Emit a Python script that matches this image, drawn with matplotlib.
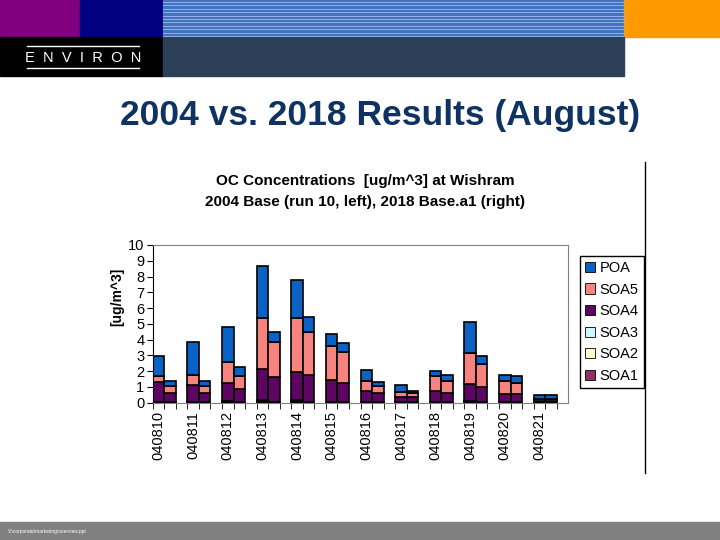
import numpy as np
import matplotlib
matplotlib.use("Agg")
import matplotlib.pyplot as plt
from matplotlib.patches import Rectangle, Patch

plt.rcParams['font.family'] = ['Liberation Sans', 'DejaVu Sans']

# category labels (dates)
dates = ["040810", "040811", "040812", "040813", "040814", "040815",
         "040816", "040817", "040818", "040819", "040820", "040821"]

# 2004 base (left bar of each pair)
soa1_04 = [0.03, 0.02, 0.06, 0.03, 0.03, 0.04, 0.02, 0.02, 0.02, 0.06, 0.02, 0.03]
soa2_04 = [0.01, 0.01, 0.01, 0.05, 0.05, 0.01, 0.0, 0.0, 0.0, 0.01, 0.0, 0.0]
soa3_04 = [0.01, 0.01, 0.01, 0.06, 0.06, 0.01, 0.0, 0.0, 0.0, 0.01, 0.0, 0.0]
soa4_04 = [1.28, 1.06, 1.19, 1.97, 1.78, 1.36, 0.70, 0.32, 0.70, 1.08, 0.51, 0.10]
soa5_04 = [0.34, 0.68, 1.33, 3.26, 3.47, 2.20, 0.68, 0.34, 0.95, 1.97, 0.87, 0.08]
poa_04 = [1.27, 2.05, 2.18, 3.28, 2.37, 0.71, 0.65, 0.42, 0.32, 1.97, 0.33, 0.26]

# 2018 base.a1 (right bar of each pair)
soa1_18 = [0.02, 0.02, 0.04, 0.06, 0.06, 0.04, 0.02, 0.02, 0.02, 0.05, 0.02, 0.02]
soa2_18 = [0.0, 0.0, 0.0, 0.0, 0.0, 0.0, 0.0, 0.0, 0.0, 0.0, 0.0, 0.0]
soa3_18 = [0.0, 0.0, 0.0, 0.01, 0.01, 0.0, 0.0, 0.0, 0.0, 0.0, 0.0, 0.0]
soa4_18 = [0.57, 0.57, 0.81, 1.54, 1.66, 1.19, 0.57, 0.32, 0.57, 0.92, 0.51, 0.11]
soa5_18 = [0.45, 0.45, 0.86, 2.26, 2.73, 2.00, 0.49, 0.25, 0.81, 1.46, 0.74, 0.08]
poa_18 = [0.31, 0.31, 0.55, 0.59, 0.95, 0.53, 0.21, 0.13, 0.33, 0.51, 0.40, 0.26]

species = ["SOA1", "SOA2", "SOA3", "SOA4", "SOA5", "POA"]
colors = {"SOA1": "#8c3163", "SOA2": "#ffffcc", "SOA3": "#ccf7ff",
          "SOA4": "#5e0563", "SOA5": "#f7837f", "POA": "#0a63c4"}

left = [soa1_04, soa2_04, soa3_04, soa4_04, soa5_04, poa_04]
right = [soa1_18, soa2_18, soa3_18, soa4_18, soa5_18, poa_18]

fig = plt.figure(figsize=(7.2, 5.4), dpi=100)

# slide decoration in pixel coords
bg = fig.add_axes([0, 0, 1, 1])
bg.set_xlim(0, 720)
bg.set_ylim(540, 0)
bg.axis("off")
bg.add_patch(Rectangle((0, 0), 80, 37, color="#800080"))
bg.add_patch(Rectangle((80, 0), 83, 37, color="#000080"))
bg.add_patch(Rectangle((163, 0), 461, 37, color="#4373c0"))
for yy in np.arange(2, 37, 3.4):
    bg.plot([163, 624], [yy, yy], color="#9dbcec", lw=0.6)
bg.add_patch(Rectangle((624, 0), 96, 37, color="#ff9900"))
bg.add_patch(Rectangle((0, 37), 163, 39, color="black"))
bg.add_patch(Rectangle((163, 37), 461, 39, color="#2b3f58"))
bg.plot([27, 139], [46, 46], color="white", lw=1)
bg.plot([27, 139], [68, 68], color="white", lw=1)
bg.text(83, 57.5, "E  N  V  I  R  O  N", color="white", fontsize=10.5,
        ha="center", va="center")
bg.add_patch(Rectangle((0, 522), 720, 18, color="#808080"))
bg.text(8, 531, r"V:\corporate\marketing\overview.ppt", color="white",
        fontsize=3.5, va="center")
bg.text(380, 115, "2004 vs. 2018 Results (August)", color="#0e3262",
        fontsize=25.5, fontweight="bold", ha="center", va="center")
bg.plot([645, 645], [162, 473], color="black", lw=1)
bg.text(365, 181, "OC Concentrations  [ug/m^3] at Wishram", fontsize=11,
        fontweight="bold", ha="center", va="center")
bg.text(365, 202, "2004 Base (run 10, left), 2018 Base.a1 (right)", fontsize=11,
        fontweight="bold", ha="center", va="center")
bg.text(117, 297, "[ug/m^3]", fontsize=10, fontweight="bold", rotation=90,
        ha="center", va="center")

ax = fig.add_axes([152.7 / 720, 1 - 402.7 / 540, 415.6 / 720, 157.7 / 540])
x = np.arange(len(dates))
w = 1 / 3
b1 = np.zeros(len(dates))
b2 = np.zeros(len(dates))
for name, v1, v2 in zip(species, left, right):
    ax.bar(x, v1, w, bottom=b1, align="edge", color=colors[name],
           edgecolor="black", linewidth=1.2)
    ax.bar(x + w, v2, w, bottom=b2, align="edge", color=colors[name],
           edgecolor="black", linewidth=1.2)
    b1 += np.array(v1)
    b2 += np.array(v2)

ax.set_xlim(0, len(dates))
ax.set_ylim(0, 10)
ax.set_yticks(range(0, 11))
ax.set_xticks(x + w / 2)
ax.set_xticklabels(dates, rotation=90, fontsize=10.5)
ax.tick_params(axis="x", length=0, pad=6)
ax.set_xticks(np.arange(0, len(dates), w), minor=True)
ax.tick_params(axis="x", which="minor", length=4, direction="out")
ax.tick_params(axis="y", labelsize=10.5, length=4, direction="out", pad=2)
for s in ["top", "right", "bottom"]:
    ax.spines[s].set_color("#808080")
ax.spines["left"].set_color("black")

handles = [Patch(facecolor=colors[n], edgecolor="black", linewidth=0.6, label=n)
           for n in species[::-1]]
fig.legend(handles=handles, loc="upper left", bbox_to_anchor=(580 / 720, 1 - 256 / 540),
           fontsize=10.5, frameon=True, fancybox=False, edgecolor="black",
           framealpha=1, handlelength=0.7, handleheight=0.7, handletextpad=0.3,
           borderpad=0.35, labelspacing=0.52, borderaxespad=0)

fig.savefig("out.png", dpi=100)
